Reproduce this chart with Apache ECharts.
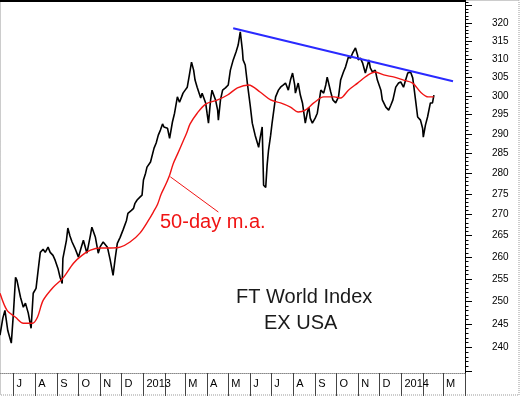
<!DOCTYPE html>
<html><head><meta charset="utf-8">
<script src="https://cdn.jsdelivr.net/npm/echarts@6/dist/echarts.min.js"></script>
<style>html,body{margin:0;padding:0;background:#fff}#c{width:520px;height:396px}</style>
</head><body><div id="c"></div>
<script>
// ---- data ----
const priceDates = ["2012-06-12","2012-06-16","2012-06-19","2012-06-23","2012-06-28","2012-07-01","2012-07-04","2012-07-06","2012-07-11","2012-07-15","2012-07-18","2012-07-22","2012-07-26","2012-07-29","2012-08-02","2012-08-05","2012-08-08","2012-08-12","2012-08-15","2012-08-19","2012-08-22","2012-08-26","2012-08-29","2012-09-02","2012-09-05","2012-09-08","2012-09-09","2012-09-14","2012-09-16","2012-09-19","2012-09-22","2012-09-26","2012-10-01","2012-10-05","2012-10-08","2012-10-11","2012-10-13","2012-10-18","2012-10-20","2012-10-25","2012-10-29","2012-11-01","2012-11-05","2012-11-11","2012-11-15","2012-11-19","2012-11-22","2012-11-25","2012-11-29","2012-12-03","2012-12-08","2012-12-10","2012-12-15","2012-12-18","2012-12-20","2012-12-23","2012-12-27","2012-12-30","2013-01-01","2013-01-04","2013-01-06","2013-01-11","2013-01-13","2013-01-16","2013-01-19","2013-01-22","2013-01-25","2013-01-28","2013-01-30","2013-02-04","2013-02-07","2013-02-08","2013-02-11","2013-02-14","2013-02-18","2013-02-21","2013-02-24","2013-02-26","2013-03-01","2013-03-04","2013-03-07","2013-03-10","2013-03-13","2013-03-15","2013-03-18","2013-03-23","2013-03-25","2013-03-30","2013-04-01","2013-04-03","2013-04-06","2013-04-08","2013-04-13","2013-04-16","2013-04-17","2013-04-20","2013-04-23","2013-04-27","2013-05-01","2013-05-04","2013-05-08","2013-05-12","2013-05-15","2013-05-18","2013-05-21","2013-05-22","2013-05-25","2013-05-28","2013-06-01","2013-06-04","2013-06-08","2013-06-13","2013-06-15","2013-06-18","2013-06-20","2013-06-23","2013-06-25","2013-06-27","2013-06-30","2013-07-02","2013-07-07","2013-07-11","2013-07-14","2013-07-18","2013-07-21","2013-07-25","2013-07-28","2013-07-31","2013-08-03","2013-08-04","2013-08-08","2013-08-11","2013-08-14","2013-08-18","2013-08-21","2013-08-23","2013-08-25","2013-08-28","2013-09-01","2013-09-04","2013-09-09","2013-09-13","2013-09-16","2013-09-18","2013-09-23","2013-09-26","2013-09-30","2013-10-04","2013-10-07","2013-10-11","2013-10-14","2013-10-18","2013-10-21","2013-10-24","2013-10-28","2013-10-31","2013-11-01","2013-11-04","2013-11-07","2013-11-11","2013-11-16","2013-11-18","2013-11-21","2013-11-25","2013-11-28","2013-12-03","2013-12-05","2013-12-10","2013-12-14","2013-12-17","2013-12-20","2013-12-24","2013-12-28","2013-12-31","2014-01-04","2014-01-07","2014-01-10","2014-01-14","2014-01-17","2014-01-18","2014-01-21","2014-01-24","2014-01-28","2014-01-31","2014-02-01","2014-02-04","2014-02-07","2014-02-11","2014-02-14","2014-02-16"];
const priceValues = [242.6,246.3,248.0,243.6,240.9,247.4,255.4,254.7,250.9,248.7,249.6,247.4,244.1,251.8,252.9,257.0,261.1,261.8,261.1,262.3,261.1,260.4,259.3,257.4,255.4,254.0,259.7,263.9,266.8,264.9,263.5,262.1,260.0,262.3,263.9,262.1,260.9,265.1,267.0,264.6,260.9,262.5,263.5,262.3,259.3,255.8,259.7,263.2,264.6,266.3,268.6,270.3,271.0,271.5,272.7,273.5,274.2,274.7,278.4,280.1,281.6,282.9,283.4,286.4,287.7,289.7,291.0,292.6,291.8,291.5,288.9,288.4,293.1,295.4,299.7,298.3,299.7,300.7,301.5,302.3,305.6,309.1,306.9,304.2,302.3,299.4,300.7,298.1,295.4,292.8,298.9,301.5,298.9,296.2,293.6,298.9,301.5,302.1,302.9,306.9,309.7,311.9,313.8,317.5,312.4,309.7,308.3,303.4,297.5,292.8,289.7,286.6,288.9,291.8,277.1,276.6,282.1,285.9,289.7,292.8,299.7,301.5,302.3,302.9,303.4,301.5,304.2,306.1,302.9,300.7,303.4,300.2,298.1,292.8,295.7,297.0,294.1,292.8,294.1,295.4,301.5,300.7,302.9,305.0,301.0,298.9,298.1,299.7,304.2,306.4,307.8,310.5,310.2,311.6,313.0,311.0,309.7,310.2,308.9,306.1,309.7,307.5,306.4,306.9,304.2,301.5,298.9,297.0,296.2,297.5,298.9,302.3,303.4,303.7,302.3,304.2,306.1,306.4,304.8,303.4,298.9,294.4,293.6,291.5,289.2,292.3,294.4,298.1,298.1,300.2];

const maDates = ["2012-06-12","2012-06-22","2012-07-04","2012-07-15","2012-07-28","2012-08-04","2012-08-12","2012-08-26","2012-09-09","2012-09-24","2012-10-06","2012-10-18","2012-11-01","2012-11-15","2012-11-29","2012-12-13","2012-12-27","2013-01-08","2013-01-15","2013-01-21","2013-01-26","2013-02-01","2013-02-07","2013-02-12","2013-02-18","2013-02-25","2013-03-03","2013-03-08","2013-03-18","2013-03-30","2013-04-16","2013-04-30","2013-05-14","2013-05-30","2013-06-15","2013-06-30","2013-07-14","2013-07-28","2013-08-08","2013-08-18","2013-08-30","2013-09-13","2013-09-28","2013-10-07","2013-10-18","2013-10-31","2013-11-15","2013-11-25","2013-12-07","2013-12-22","2014-01-04","2014-01-17","2014-01-28","2014-02-08","2014-02-16"];
const maValues = [251.8,248.0,246.5,245.2,245.2,246.5,250.2,253.1,255.2,258.6,260.4,261.6,262.1,262.1,262.3,263.5,265.6,268.6,270.6,272.5,274.9,277.1,279.6,282.4,284.8,287.7,290.2,292.6,295.4,297.8,298.9,300.2,302.1,302.9,301.0,298.9,298.1,297.0,295.7,296.2,298.1,299.7,299.7,299.4,301.5,303.4,305.6,306.4,305.6,305.0,304.2,303.4,301.0,299.7,299.7];

const trendDates = ["2013-05-08","2014-03-15"];
const trendValues = [318.5,303.9];

const pointerDates = ["2013-02-08","2013-04-17"];
const pointerValues = [279.2,270.6];

const yTickLabels = [240,245,250,255,260,265,270,275,280,285,290,295,300,305,310,315,320];
const yMajorTicks = [235,240,245,250,255,260,265,270,275,280,285,290,295,300,305,310,315,320,325];
const monthLetters = ["J","F","M","A","M","J","J","A","S","O","N","D"];
const annotationMA = "50-day m.a.";
const titleLines = ["FT World Index","EX USA"];

// ---- build ----
const ln = Math.log;
const toTime = s => { const p = s.split('-').map(Number); return new Date(p[0], p[1] - 1, p[2]).getTime(); };
const yMin = 234.6, yMax = 326.6;
const yMinor = [];
for (let v = 235; v <= 326; v++) yMinor.push(ln(v));

const monthStarts = [];
for (let y = 2012, m = 6; !(y === 2014 && m === 3); ) {
  monthStarts.push(new Date(y, m, 1).getTime());
  m++; if (m === 12) { m = 0; y++; }
}
const xMin = new Date(2012, 5, 12).getTime();
const xMax = new Date(2014, 3, 1).getTime();
const tickMonths = monthStarts.concat([xMax]);

const zip = (d, v) => d.map((x, i) => [toTime(x), ln(v[i])]);

const chart = echarts.init(document.getElementById('c'), null, {renderer: 'canvas'});
const font = 'Liberation Sans, Arial, sans-serif';
chart.setOption({
  animation: false,
  backgroundColor: '#fff',
  grid: {left: 0, right: 55, top: 0, bottom: 23, outerBoundsMode: 'none', containLabel: false},
  xAxis: {
    type: 'value',
    min: xMin,
    max: xMax,
    axisLine: {show: true, lineStyle: {color: '#888', width: 1, type: [1, 1]}},
    axisTick: {show: true, customValues: tickMonths, length: 23, lineStyle: {color: '#444', width: 1}},
    axisLabel: {
      customValues: monthStarts,
      formatter: function (v) {
        const d = new Date(v);
        const m = d.getMonth();
        if (m === 0) return String(d.getFullYear());
        if (m === 1) return '';
        return monthLetters[m];
      },
      align: 'left', padding: [0, 0, 0, 3], margin: 5,
      color: '#000', fontSize: 11, fontFamily: font
    },
    splitLine: {show: false}
  },
  yAxis: [{
    type: 'value', position: 'right', min: ln(yMin), max: ln(yMax),
    axisLine: {show: true, lineStyle: {color: '#000', width: 1}},
    axisTick: {show: true, customValues: yMajorTicks.map(ln), length: 7, lineStyle: {color: '#000'}},
    axisLabel: {
      customValues: yTickLabels.map(ln),
      formatter: v => String(Math.round(Math.exp(v))),
      margin: 27, color: '#000', fontSize: 10, fontFamily: font
    },
    splitLine: {show: false}
  }, {
    type: 'value', position: 'right', min: ln(yMin), max: ln(yMax),
    axisLine: {show: false},
    axisTick: {show: true, customValues: yMinor, length: 3.5, lineStyle: {color: '#000'}},
    axisLabel: {show: false},
    splitLine: {show: false}
  }],
  series: [{
    type: 'line', name: 'price', data: zip(priceDates, priceValues),
    showSymbol: false, lineStyle: {color: '#000', width: 1.6}, z: 3
  }, {
    type: 'line', name: 'ma50', data: zip(maDates, maValues), smooth: 0.3,
    showSymbol: false, lineStyle: {color: '#f01414', width: 1.4}, z: 4
  }, {
    type: 'line', name: 'trend', data: zip(trendDates, trendValues),
    showSymbol: false, lineStyle: {color: '#2a2aff', width: 2}, z: 5
  }, {
    type: 'line', name: 'pointer', data: zip(pointerDates, pointerValues),
    showSymbol: false, lineStyle: {color: '#f01414', width: 1}, z: 4
  }],
  graphic: [
    {type: 'rect', shape: {x: 0.5, y: 0.5, width: 518.5, height: 394.5}, style: {fill: 'none', stroke: '#999', lineWidth: 1, lineDash: [1, 1]}, z: 0, silent: true},
    {type: 'line', shape: {x1: 0, y1: 1, x2: 465, y2: 1}, style: {stroke: '#000', lineWidth: 2}, z: 10, silent: true},
    {type: 'text', left: 160, top: 212, style: {text: annotationMA, fill: '#f01414', font: '20px ' + font}, z: 10},
    {type: 'text', left: 236, top: 287, style: {text: titleLines[0], fill: '#1a1a1a', font: '20px ' + font}, z: 10},
    {type: 'text', left: 264, top: 313, style: {text: titleLines[1], fill: '#1a1a1a', font: '20px ' + font}, z: 10}
  ]
});
</script></body></html>
